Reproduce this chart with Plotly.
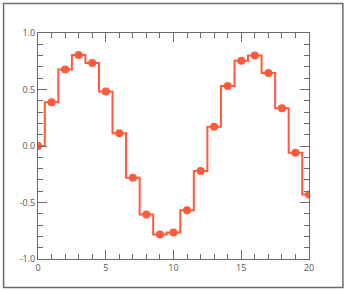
import plotly.graph_objects as go

x_vals = list(range(0, 21))
y_vals = [0.0, 0.388, 0.677, 0.805, 0.734, 0.482, 0.113, -0.281, -0.606, -0.784, -0.766,
          -0.568, -0.222, 0.171, 0.530, 0.754, 0.801, 0.645, 0.334, -0.059, -0.429]

x_ticks = [0, 5, 10, 15, 20]
x_tick_text = ["0", "5", "10", "15", "20"]
y_ticks = [-1.0, -0.5, 0.0, 0.5, 1.0]
y_tick_text = ["-1.0", "-0.5", "0.0", "0.5", "1.0"]

color = "#FF5A3C"

fig = go.Figure()
fig.add_trace(go.Scatter(
    x=x_vals, y=y_vals, mode="lines+markers",
    line=dict(shape="hvh", color=color, width=2),
    marker=dict(size=8, color=color),
    cliponaxis=True, showlegend=False,
))

axis_common = dict(
    showgrid=False, zeroline=False, showline=True, linecolor="#6b6b6b", linewidth=1,
    mirror="allticks", ticks="inside", ticklen=9, tickcolor="#6b6b6b", tickwidth=1,
    tickfont=dict(family="Open Sans", size=9, color="#555555"),
)

fig.update_xaxes(range=[0, 20], tickvals=x_ticks, ticktext=x_tick_text,
                 minor=dict(dtick=1, ticks="inside", ticklen=5, tickcolor="#6b6b6b", tickwidth=1),
                 **axis_common)
fig.update_yaxes(range=[-1, 1], tickvals=y_ticks, ticktext=y_tick_text,
                 minor=dict(dtick=0.1, ticks="inside", ticklen=5, tickcolor="#6b6b6b", tickwidth=1),
                 **axis_common)

fig.add_shape(type="rect", xref="paper", yref="paper",
              x0=-0.127, x1=1.125, y0=-0.1256, y1=1.130,
              line=dict(color="#6b6b6b", width=1.5), fillcolor="rgba(0,0,0,0)", layer="below")

fig.update_layout(
    width=345, height=291,
    margin=dict(l=37.5, r=36, t=33, b=32),
    paper_bgcolor="white", plot_bgcolor="white",
)

fig.write_html("out.html")
